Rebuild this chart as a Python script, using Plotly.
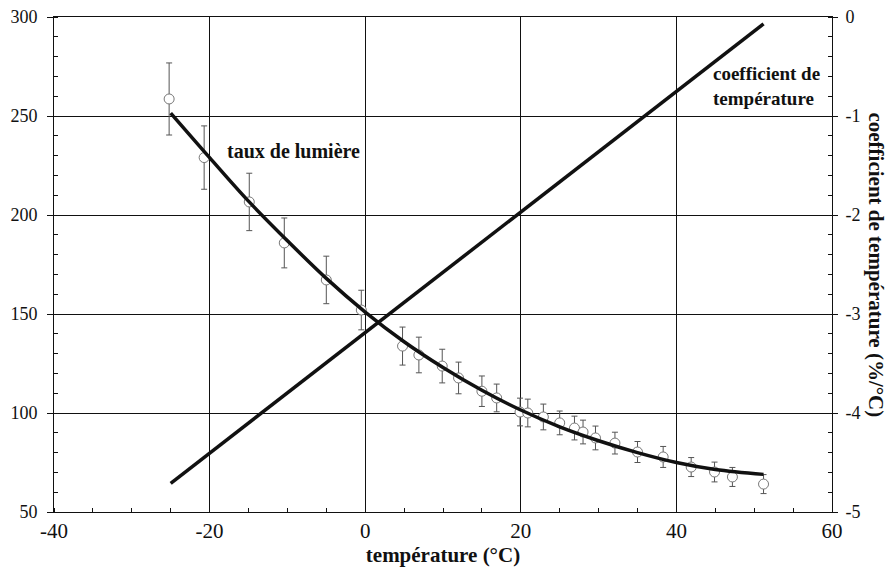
import plotly.graph_objects as go

# Measured light yield (taux de lumière) with error bars
meas_temp = [-25.2, -20.7, -14.9, -10.4, -5.0, -0.5, 4.8, 6.9, 9.9, 12.0, 15.0, 16.9,
             19.9, 20.9, 22.9, 25.0, 26.9, 28.0, 29.6, 32.1, 35.0, 38.3, 41.9, 44.9,
             47.2, 51.2]
meas_yield = [258.6, 229.0, 206.6, 185.9, 167.2, 152.0, 133.8, 129.3, 123.7, 117.7,
              111.0, 107.6, 100.5, 100.0, 98.0, 95.0, 92.4, 90.4, 87.4, 84.8, 80.3,
              77.8, 72.7, 70.2, 67.7, 64.1]
meas_err = [18.2, 16.0, 14.5, 12.6, 12.0, 10.0, 9.6, 9.0, 8.5, 8.0, 7.7, 7.0, 7.0,
            7.0, 6.5, 6.0, 6.0, 6.0, 6.0, 5.5, 5.3, 5.3, 4.8, 5.0, 4.8, 4.8]

# Fitted light-yield curve
fit_temp = [-25, -20, -15, -10, -5, 0, 5, 10, 15, 20, 25, 30, 35, 40, 45, 51.2]
fit_yield = [251.5, 229, 207, 187, 168, 151, 136, 123, 111.5, 101.5, 93, 86, 80, 75,
             71.5, 69]

# Temperature coefficient (%/°C), right axis
coef_temp = [-25, 51.2]
coef_vals = [-4.71, -0.07]

x_ticks = [-40, -20, 0, 20, 40, 60]
y_ticks = [50, 100, 150, 200, 250, 300]
y2_ticks = [-5, -4, -3, -2, -1, 0]

FONT = "Times New Roman, Liberation Serif, DejaVu Serif, serif"
INK = "#111111"

fig = go.Figure()

fig.add_trace(go.Scatter(
    x=meas_temp, y=meas_yield, mode="markers",
    marker=dict(symbol="circle", size=10, color="white",
                line=dict(color="#777777", width=1)),
    error_y=dict(type="data", array=meas_err, visible=True,
                 color="#555555", thickness=1, width=3),
    showlegend=False, hoverinfo="skip",
))

fig.add_trace(go.Scatter(
    x=fit_temp, y=fit_yield, mode="lines",
    line=dict(color=INK, width=3.5, shape="spline"),
    showlegend=False,
))

fig.add_trace(go.Scatter(
    x=coef_temp, y=coef_vals, mode="lines", yaxis="y2",
    line=dict(color=INK, width=3.5),
    showlegend=False,
))

fig.update_layout(
    width=888, height=569,
    margin=dict(l=54, r=56, t=17, b=57),
    paper_bgcolor="white", plot_bgcolor="white",
    font=dict(family=FONT, color=INK),
    xaxis=dict(
        range=[-40, 60], tickvals=x_ticks, ticktext=[str(v) for v in x_ticks],
        showgrid=True, gridcolor=INK, gridwidth=1,
        showline=True, linecolor=INK, linewidth=1, mirror=True,
        ticks="",
        minor=dict(dtick=5, tick0=0, ticks="inside", ticklen=4, tickcolor=INK,
                   showgrid=False),
        tickfont=dict(size=21, family=FONT),
        title=dict(text="<b>température (°C)</b>", font=dict(size=21, family=FONT),
                   standoff=3),
        automargin=False,
        zeroline=False,
    ),
    yaxis=dict(
        range=[50, 300], tickvals=y_ticks, ticktext=[str(v) for v in y_ticks],
        showgrid=True, gridcolor=INK, gridwidth=1,
        showline=True, linecolor=INK, linewidth=1,
        ticks="outside", ticklen=6, tickcolor=INK,
        minor=dict(dtick=10, tick0=0, ticks="inside", ticklen=4, tickcolor=INK,
                   showgrid=False),
        tickfont=dict(size=18, family=FONT),
        ticklabelstandoff=6,
        automargin=False,
        zeroline=False,
    ),
    yaxis2=dict(
        range=[-5, 0], tickvals=y2_ticks, ticktext=[str(v) for v in y2_ticks],
        overlaying="y", side="right", showgrid=False,
        showline=True, linecolor=INK, linewidth=1,
        ticks="outside", ticklen=5, tickcolor=INK,
        minor=dict(dtick=0.2, tick0=0, ticks="inside", ticklen=4, tickcolor=INK,
                   showgrid=False),
        tickfont=dict(size=18, family=FONT),
        ticklabelstandoff=4,
        automargin=False,
        zeroline=False,
    ),
    annotations=[
        dict(x=-9.25, y=232.3, xref="x", yref="y", text="<b>taux de lumière</b>",
             showarrow=False, font=dict(size=20, family=FONT, color=INK)),
        dict(x=44.5, y=265.2, xref="x", yref="y", xanchor="left", yanchor="middle",
             align="left", text="<b>coefficient de<br>température</b>",
             showarrow=False, font=dict(size=19, family=FONT, color=INK)),
        dict(x=1.0566, y=0.5, xref="paper", yref="paper", textangle=90,
             xanchor="center", yanchor="middle",
             text="<b>coefficient de température (%/°C)</b>",
             showarrow=False, font=dict(size=21, family=FONT, color=INK)),
    ],
)

fig.write_html("out.html")
